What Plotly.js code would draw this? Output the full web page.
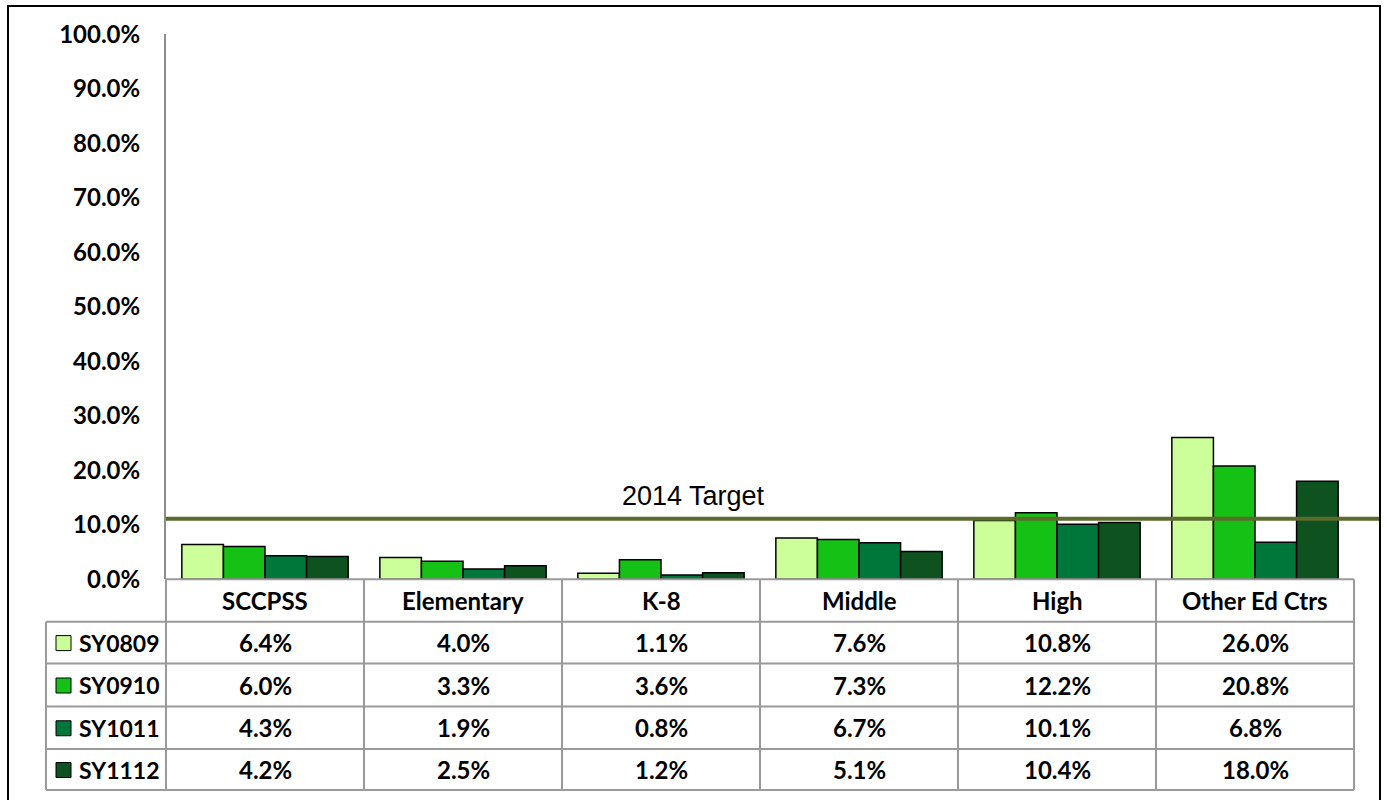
<!DOCTYPE html>
<html>
<head>
<meta charset="utf-8">
<script src="https://cdn.plot.ly/plotly-3.0.1.min.js"></script>
<style>html,body{margin:0;padding:0;background:#fff;}#chart{width:1387px;height:800px;}</style>
</head>
<body>
<div id="chart"></div>
<script>
// ---- data ----
const categories = ["SCCPSS", "Elementary", "K-8", "Middle", "High", "Other Ed Ctrs"];
const seriesNames = ["SY0809", "SY0910", "SY1011", "SY1112"];
const sy0809 = [6.4, 4.0, 1.1, 7.6, 10.8, 26.0];
const sy0910 = [6.0, 3.3, 3.6, 7.3, 12.2, 20.8];
const sy1011 = [4.3, 1.9, 0.8, 6.7, 10.1, 6.8];
const sy1112 = [4.2, 2.5, 1.2, 5.1, 10.4, 18.0];
const targetValue = 11.1;
const targetLabel = "2014 Target";
const yTicks = [0, 10, 20, 30, 40, 50, 60, 70, 80, 90, 100];

// ---- styles ----
const colors = ["#ccff99", "#16c116", "#00773a", "#0e5220"];
const W = 1387, H = 800;
const fx = px => px / W;
const fy = py => 1 - py / H;
const boldFont = {family: "Lato, 'Open Sans', sans-serif", size: 24, color: "#000"};
const rowFont = {family: "Lato, 'Open Sans', sans-serif", size: 23, color: "#000"};
const gridC = "#9a9a9a";

const seriesVals = [sy0809, sy0910, sy1011, sy1112];
const traces = seriesVals.map((vals, i) => ({
  type: "bar",
  name: seriesNames[i],
  x: categories,
  y: vals,
  marker: {color: colors[i], line: {color: "#000", width: 1.5}},
  hoverinfo: "x+y"
}));

// plot area pixel geometry
const plotL = 166, plotR = 1354, plotT = 34.3, plotB = 579.3;
const rowLines = [579.3, 621.7, 663.5, 706.5, 749, 790];
const tableL = 46;

const shapes = [];
// outer border
shapes.push({type: "rect", xref: "paper", yref: "paper", x0: fx(8), x1: fx(1380), y0: fy(812), y1: fy(6), line: {color: "#000", width: 2}});
// target line
shapes.push({type: "line", xref: "paper", yref: "y", x0: fx(plotL), x1: fx(1379), y0: targetValue, y1: targetValue, line: {color: "#5a6b2c", width: 4}});
// table horizontal lines
shapes.push({type: "line", xref: "paper", yref: "paper", x0: fx(plotL), x1: fx(plotR), y0: fy(rowLines[0]), y1: fy(rowLines[0]), line: {color: gridC, width: 2}});
for (let r = 1; r < rowLines.length; r++) {
  shapes.push({type: "line", xref: "paper", yref: "paper", x0: fx(tableL), x1: fx(plotR), y0: fy(rowLines[r]), y1: fy(rowLines[r]), line: {color: gridC, width: 2}});
}
// table vertical lines (category boundaries)
const catW = (plotR - plotL) / categories.length;
for (let c = 0; c <= categories.length; c++) {
  const px = plotL + c * catW;
  shapes.push({type: "line", xref: "paper", yref: "paper", x0: fx(px), x1: fx(px), y0: fy(rowLines[0]), y1: fy(rowLines[rowLines.length - 1]), line: {color: gridC, width: 2}});
}
shapes.push({type: "line", xref: "paper", yref: "paper", x0: fx(tableL), x1: fx(tableL), y0: fy(rowLines[1]), y1: fy(rowLines[rowLines.length - 1]), line: {color: gridC, width: 2}});

const annotations = [];
// category header labels
categories.forEach(c => {
  annotations.push({xref: "x", yref: "paper", x: c, y: fy((rowLines[0] + rowLines[1]) / 2), text: "<b>" + c + "</b>", showarrow: false, font: boldFont, xanchor: "center", yanchor: "middle"});
});
// data rows
seriesVals.forEach((vals, i) => {
  const yc = (rowLines[i + 1] + rowLines[i + 2]) / 2;
  // legend key
  shapes.push({type: "rect", xref: "paper", yref: "paper", x0: fx(56), x1: fx(71), y0: fy(yc + 8), y1: fy(yc - 7), fillcolor: colors[i], line: {color: "#000", width: 1}});
  annotations.push({xref: "paper", yref: "paper", x: fx(77), y: fy(yc), text: "<b>" + seriesNames[i] + "</b>", showarrow: false, font: rowFont, xanchor: "left", yanchor: "middle"});
  vals.forEach((v, j) => {
    annotations.push({xref: "x", yref: "paper", x: categories[j], y: fy(yc), text: "<b>" + v.toFixed(1) + "%</b>", showarrow: false, font: boldFont, xanchor: "center", yanchor: "middle"});
  });
});
// target label
annotations.push({xref: "paper", yref: "paper", x: fx(693), y: fy(496), text: targetLabel, showarrow: false, font: {family: "'Liberation Sans', Arial, sans-serif", size: 27, color: "#000"}, xanchor: "center", yanchor: "middle"});

const layout = {
  width: W, height: H,
  margin: {l: 0, r: 0, t: 0, b: 0},
  paper_bgcolor: "#fff", plot_bgcolor: "rgba(0,0,0,0)",
  showlegend: false,
  barmode: "group",
  bargap: 0.16,
  bargroupgap: 0,
  xaxis: {
    domain: [fx(plotL), fx(plotR)],
    range: [-0.5, categories.length - 0.5],
    showticklabels: false, showline: false, showgrid: false, zeroline: false, ticks: "",
    fixedrange: true
  },
  yaxis: {
    domain: [fy(plotB), fy(plotT)],
    range: [0, 100],
    tickvals: yTicks,
    ticktext: yTicks.map(t => "<b>" + t.toFixed(1) + "%</b>"),
    tickfont: boldFont,
    ticks: "",
    ticklabelstandoff: 19,
    showline: true, linecolor: "#8c8c8c", linewidth: 2,
    showgrid: false, zeroline: false,
    fixedrange: true
  },
  shapes: shapes,
  annotations: annotations
};

Plotly.newPlot("chart", traces, layout, {displayModeBar: false, staticPlot: true});
</script>
</body>
</html>
